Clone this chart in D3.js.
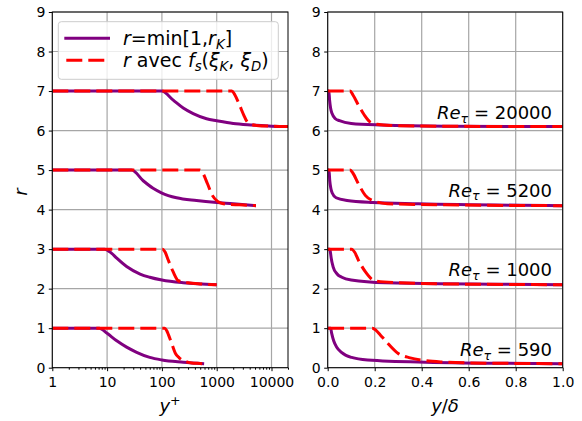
<!DOCTYPE html>
<html><head><meta charset="utf-8">
<script src="https://cdn.jsdelivr.net/npm/d3@7"></script>
<style>
body{margin:0;background:#fff}
svg{display:block}
text{font-family:"DejaVu Sans",sans-serif;fill:#000}
</style>
</head><body>
<svg id="c" width="582" height="421"></svg>
<script>
// ---------------- data ----------------
const reTau = [590, 1000, 5200, 20000];
const reLabels = ["590", "1000", "5200", "20000"];

// r = min[1, r_K]  (purple, offsets 0/2/4/6 already included)
const yPlusK590   = [1, 7.2, 10, 15, 22.7, 34.6, 60, 100, 245, 590];
const rK590       = [1, 1, 0.87, 0.68, 0.52, 0.39, 0.26, 0.195, 0.14, 0.1];
const yPlusK1000  = [1, 9, 12, 15, 22.7, 40, 60, 100, 245, 1000];
const rK1000      = [3, 3, 2.9, 2.77, 2.56, 2.37, 2.29, 2.22, 2.15, 2.1];
const yPlusK5200  = [1, 28, 45.6, 69, 100, 185, 428, 1000, 2000, 5200];
const rK5200      = [5, 5, 4.73, 4.54, 4.42, 4.3, 4.23, 4.18, 4.15, 4.1];
const yPlusK20000 = [1, 99, 161, 245, 372, 653, 1000, 2000, 4620, 10000, 20000];
const rK20000     = [7, 7, 6.77, 6.57, 6.43, 6.3, 6.25, 6.18, 6.14, 6.11, 6.1];

// r avec f_s(xi_K, xi_D)  (red dashed)
const yPlusS590   = [1, 112, 122, 132, 147, 177, 207, 236, 295, 354, 450, 590];
const rS590       = [1, 1, 0.94, 0.83, 0.66, 0.36, 0.25, 0.19, 0.14, 0.12, 0.11, 0.1];
const yPlusS1000  = [1, 102, 115, 130, 160, 200, 300, 500, 1000];
const rS1000      = [3, 3, 2.92, 2.73, 2.43, 2.2, 2.15, 2.12, 2.1];
const yPlusS5200  = [1, 494, 560, 676, 832, 1040, 1318, 2600, 5200];
const rS5200      = [5, 5, 4.92, 4.66, 4.36, 4.21, 4.15, 4.12, 4.1];
const yPlusS20000 = [1, 1900, 2150, 2600, 3100, 3600, 4200, 5350, 10000, 20000];
const rS20000     = [7, 7, 6.9, 6.65, 6.4, 6.22, 6.16, 6.13, 6.11, 6.1];

const xTicksLog = [1, 10, 100, 1000, 10000];
const xTicksLin = [0, 0.2, 0.4, 0.6, 0.8, 1.0];
const yTicks = [0, 1, 2, 3, 4, 5, 6, 7, 8, 9];

const seriesK = [[yPlusK590, rK590], [yPlusK1000, rK1000], [yPlusK5200, rK5200], [yPlusK20000, rK20000]];
const seriesS = [[yPlusS590, rS590], [yPlusS1000, rS1000], [yPlusS5200, rS5200], [yPlusS20000, rS20000]];

// ---------------- layout ----------------
const svg = d3.select("#c");
const PURPLE = "#800080", RED = "#ff0000", GRID = "#a6a6a6";
const yTop = 12, yBot = 367.7;
const y = d3.scaleLinear().domain([0, 9]).range([yBot, yTop]);
const xL = d3.scaleLog().domain([1, 20000]).range([52.3, 288]);
const xR = d3.scaleLinear().domain([0, 1]).range([327.7, 562.7]);

function drawPanel(id, x, ticks, fmt, isLog, xOf) {
  const [x0, x1] = x.range();
  const g = svg.append("g");
  svg.append("clipPath").attr("id", id).append("rect")
    .attr("x", x0).attr("y", yTop).attr("width", x1 - x0).attr("height", yBot - yTop);
  // grid
  g.append("g").selectAll("line").data(ticks).join("line")
    .attr("x1", d => x(d)).attr("x2", d => x(d)).attr("y1", yTop).attr("y2", yBot)
    .attr("stroke", GRID).attr("stroke-width", 1.2);
  g.append("g").selectAll("line").data(yTicks).join("line")
    .attr("y1", d => y(d)).attr("y2", d => y(d)).attr("x1", x0).attr("x2", x1)
    .attr("stroke", GRID).attr("stroke-width", 1.2);
  // curves
  const line = d3.line().x(d => x(xOf(d[0], d[2]))).y(d => y(d[1])).curve(d3.curveMonotoneX);
  const lg = g.append("g").attr("clip-path", `url(#${id})`);
  seriesK.forEach((s, i) => {
    const pts = s[0].map((v, j) => [v, s[1][j], reTau[i]]);
    lg.append("path").attr("d", line(pts)).attr("fill", "none")
      .attr("stroke", PURPLE).attr("stroke-width", 3);
  });
  seriesS.forEach((s, i) => {
    const pts = s[0].map((v, j) => [v, s[1][j], reTau[i]]);
    lg.append("path").attr("d", line(pts)).attr("fill", "none")
      .attr("stroke", RED).attr("stroke-width", 3).attr("stroke-dasharray", "16,6");
  });
  // axes
  const ax = d3.axisBottom(x).tickValues(ticks).tickFormat(fmt).tickSize(3.5).tickPadding(6);
  const axg = g.append("g").attr("transform", `translate(0,${yBot})`).call(ax);
  if (isLog) {
    const minor = [];
    for (let p = 1; p <= 10000; p *= 10) for (let k = 2; k <= 9; k++) if (p * k <= 20000) minor.push(p * k);
    g.append("g").attr("transform", `translate(0,${yBot})`)
      .call(d3.axisBottom(x).tickValues(minor).tickFormat("").tickSize(2))
      .call(s => s.select(".domain").remove())
      .call(s => s.selectAll("line").attr("stroke", "#000"));
  }
  const ay = d3.axisLeft(y).tickValues(yTicks).tickFormat(d3.format("d")).tickSize(3.5).tickPadding(3.5);
  const ayg = g.append("g").attr("transform", `translate(${x0},0)`).call(ay);
  [axg, ayg].forEach(a => {
    a.select(".domain").remove();
    a.selectAll("text").attr("font-size", 14).attr("font-family", '"DejaVu Sans",sans-serif');
    a.selectAll("line").attr("stroke", "#000").attr("stroke-width", 1);
  });
  g.append("rect").attr("x", x0).attr("y", yTop).attr("width", x1 - x0).attr("height", yBot - yTop)
    .attr("fill", "none").attr("stroke", "#000").attr("stroke-width", 1);
  return g;
}

drawPanel("clipL", xL, xTicksLog, d3.format("d"), true, (yp) => yp);
drawPanel("clipR", xR, xTicksLin, d3.format(".1f"), false, (yp, re) => yp / re);

// rich text helper: segments [text, italic, shift(sub:1, sup:-1, 0)]
function rich(sel, segs, size) {
  let cur = 0;
  segs.forEach(([t, it, sh]) => {
    const target = sh === 1 ? size * 0.22 : sh === -1 ? -size * 0.38 : 0;
    sel.append("tspan").text(t)
      .attr("font-style", it ? "italic" : "normal")
      .attr("font-size", sh ? size * 0.7 : size)
      .attr("dy", target - cur);
    cur = target;
  });
}

// axis labels
rich(svg.append("text").attr("transform", "translate(27,192) rotate(-90)").attr("text-anchor", "middle"),
  [["r", true, 0]], 18);
rich(svg.append("text").attr("x", 170).attr("y", 412).attr("text-anchor", "middle"),
  [["y", true, 0], ["+", false, -1]], 18);
rich(svg.append("text").attr("x", 445).attr("y", 412).attr("text-anchor", "middle"),
  [["y", true, 0], ["/", false, 0], ["δ", true, 0]], 18);

// Re labels
const reBase = [356, 276, 196.5, 119];
reLabels.forEach((lab, i) => {
  rich(svg.append("text").attr("x", 552).attr("y", reBase[i]).attr("text-anchor", "end"),
    [["Re", true, 0], ["τ", true, 1], [" = " + lab, false, 0]], 18);
});

// legend
const lg = svg.append("g");
lg.append("rect").attr("x", 58.3).attr("y", 21.7).attr("width", 220).attr("height", 57.6)
  .attr("rx", 3).attr("fill", "#fff").attr("fill-opacity", 0.8).attr("stroke", "#cccccc").attr("stroke-width", 1);
lg.append("line").attr("x1", 64.3).attr("x2", 110).attr("y1", 38.3).attr("y2", 38.3)
  .attr("stroke", PURPLE).attr("stroke-width", 3);
lg.append("line").attr("x1", 64.3).attr("x2", 110).attr("y1", 60.3).attr("y2", 60.3)
  .attr("stroke", RED).attr("stroke-width", 3).attr("stroke-dasharray", "16,6").attr("stroke-dashoffset", -2);
rich(lg.append("text").attr("x", 123).attr("y", 45),
  [["r", true, 0], ["=min[1,", false, 0], ["r", true, 0], ["K", true, 1], ["]", false, 0]], 19);
rich(lg.append("text").attr("x", 123).attr("y", 67),
  [["r", true, 0], [" avec ", false, 0], ["f", true, 0], ["s", true, 1], ["(", false, 0], ["ξ", true, 0], ["K", true, 1],
   [", ", false, 0], ["ξ", true, 0], ["D", true, 1], [")", false, 0]], 19);
</script>
</body></html>
